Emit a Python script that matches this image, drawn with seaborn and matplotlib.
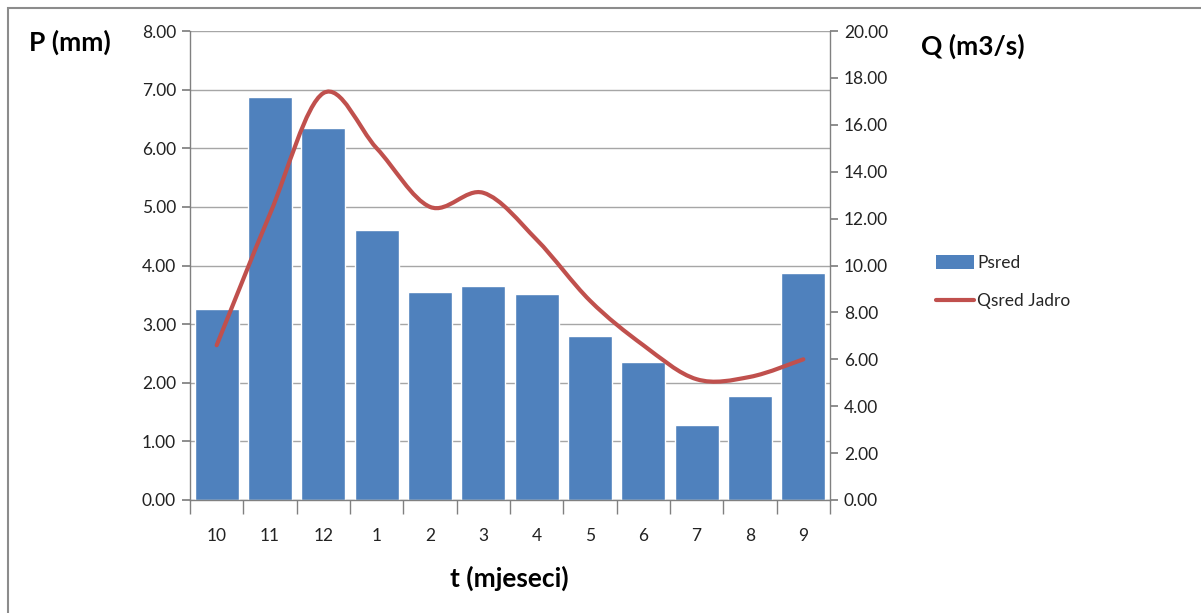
import numpy as np
import pandas as pd
import matplotlib
matplotlib.use("Agg")
import matplotlib.pyplot as plt
import seaborn as sns
from matplotlib.path import Path
from matplotlib.patches import PathPatch, Rectangle
from matplotlib.lines import Line2D
from matplotlib.ticker import FormatStrFormatter, MultipleLocator, FixedLocator

# --- podaci -----------------------------------------------------------
months = ["10", "11", "12", "1", "2", "3", "4", "5", "6", "7", "8", "9"]
p_sred = [3.25, 6.87, 6.35, 4.60, 3.55, 3.65, 3.52, 2.80, 2.35, 1.28, 1.77, 3.88]
q_sred = [6.6, 12.2, 17.35, 15.0, 12.5, 13.1, 11.1, 8.5, 6.6, 5.15, 5.25, 6.0]

BAR_COLOR = "#4F81BD"
LINE_COLOR = "#C0504D"
GRID_COLOR = "#A6A6A6"

sns.set_theme(style="white")
plt.rcParams["font.family"] = ["Lato", "DejaVu Sans"]

df = pd.DataFrame({"mjesec": months, "Psred": p_sred})

fig = plt.figure(figsize=(12.01, 6.13), dpi=100)
ax = fig.add_axes([190 / 1201, 1 - 500 / 613, 640 / 1201, 469 / 613])

sns.barplot(data=df, x="mjesec", y="Psred", order=months, color=BAR_COLOR,
            saturation=1, width=0.83, ax=ax, zorder=2)
ax.set_xlim(-0.5, len(months) - 0.5)
ax.set_ylim(0, 8)
ax.yaxis.set_major_locator(MultipleLocator(1))
ax.yaxis.set_major_formatter(FormatStrFormatter("%.2f"))
ax.grid(axis="y", color=GRID_COLOR, lw=1, zorder=0)
ax.set_axisbelow(True)
ax.set_xlabel("")
ax.set_ylabel("")

# x ose: oznake kategorija bez crtica, crtice izmedju kategorija
ax.tick_params(axis="x", length=0, pad=20, labelsize=12.5, labelcolor="#222222")
ax.xaxis.set_minor_locator(FixedLocator(np.arange(-0.5, len(months), 1)))
ax.tick_params(axis="x", which="minor", length=10, color="#808080", width=1, direction="out", bottom=True)
ax.tick_params(axis="y", left=True, length=6, color="#808080", direction="out",
               labelsize=12.5, labelcolor="#222222", pad=4)

for side in ["top", "right"]:
    ax.spines[side].set_visible(False)
for side in ["left", "bottom"]:
    ax.spines[side].set_color("#808080")
    ax.spines[side].set_linewidth(1)

# --- desna os: protok -------------------------------------------------
ax2 = ax.twinx()
ax2.set_ylim(0, 20)
ax2.yaxis.set_major_locator(MultipleLocator(2))
ax2.yaxis.set_major_formatter(FormatStrFormatter("%.2f"))
ax2.tick_params(axis="y", right=True, length=6, color="#808080", direction="out",
                labelsize=12.5, labelcolor="#222222", pad=4)
ax2.grid(False)
for side in ["top", "left", "bottom"]:
    ax2.spines[side].set_visible(False)
ax2.spines["right"].set_color("#808080")
ax2.spines["right"].set_linewidth(1)

# zagladjena linija (Catmull-Rom kao kubne Bezier krivulje)
pts = np.column_stack([np.arange(len(q_sred)), q_sred]).astype(float)
ext = np.vstack([pts[0], pts, pts[-1]])
verts = [tuple(pts[0])]
codes = [Path.MOVETO]
for i in range(1, len(ext) - 2):
    p0, p1, p2, p3 = ext[i - 1], ext[i], ext[i + 1], ext[i + 2]
    c1 = p1 + (p2 - p0) / 6
    c2 = p2 - (p3 - p1) / 6
    verts += [tuple(c1), tuple(c2), tuple(p2)]
    codes += [Path.CURVE4] * 3
ax2.add_patch(PathPatch(Path(verts, codes), facecolor="none", edgecolor=LINE_COLOR,
                        lw=3, capstyle="round", joinstyle="round", zorder=3))

# --- naslovi osi ------------------------------------------------------
fig.text(70 / 1201, 1 - 42 / 613, "P (mm)", fontsize=19, fontweight="bold",
         ha="center", va="center", color="black")
fig.text(973 / 1201, 1 - 46 / 613, "Q (m3/s)", fontsize=19, fontweight="bold",
         ha="center", va="center", color="black")
fig.text(509 / 1201, 1 - 578 / 613, "t (mjeseci)", fontsize=19, fontweight="bold",
         ha="center", va="center", color="black")

# --- legenda ----------------------------------------------------------
handles = [
    Rectangle((0, 0), 1, 1, facecolor=BAR_COLOR, edgecolor="none"),
    Line2D([0], [0], color=LINE_COLOR, lw=3),
]
fig.legend(handles, ["Psred", "Qsred Jadro"], loc="center left",
           bbox_to_anchor=(920 / 1201, 1 - 282 / 613), frameon=False,
           fontsize=12.5, handlelength=2.2, handleheight=0.9, handletextpad=0.2,
           labelspacing=1.3)

# okvir grafikona
fig.add_artist(Rectangle((8 / 1201, -0.05), 1.2, 1 - 8 / 613 + 0.05,
                         transform=fig.transFigure, fill=False,
                         edgecolor="#8C8C8C", lw=1.5))

fig.savefig("out.png", dpi=100)
